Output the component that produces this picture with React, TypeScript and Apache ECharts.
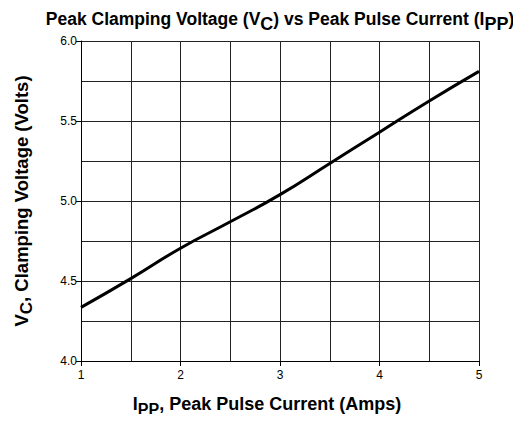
import React, { useEffect, useRef } from "react";
import * as echarts from "echarts";

const currentAmps = [1, 1.5, 2, 2.5, 3, 3.5, 4, 4.5, 5];
const clampVolts = [4.335, 4.515, 4.705, 4.87, 5.04, 5.235, 5.43, 5.625, 5.81];
const xMin = 1, xMax = 5, xStep = 1;
const yMin = 4, yMax = 6, yStep = 0.5;

const FONT = "Liberation Sans, Arial, sans-serif";

export default function App() {
  const ref = useRef<HTMLDivElement>(null);
  useEffect(() => {
    if (!ref.current) return;
    const chart = echarts.init(ref.current, undefined, { renderer: "svg" });
    const data = currentAmps.map((x, i) => [x, clampVolts[i]]);
    chart.setOption({
      animation: false,
      backgroundColor: "#fff",
      title: {
        text: "{n|Peak Clamping Voltage (V}{s|C}{n|) vs Peak Pulse Current (I}{s|PP}{n|)}",
        left: 275,
        textAlign: "center",
        top: 0,
        textStyle: {
          fontFamily: FONT,
          rich: {
            n: { fontFamily: FONT, fontSize: 17.5, fontWeight: "bold", color: "#000" },
            s: { fontFamily: FONT, fontSize: 18, fontWeight: "bold", color: "#000", padding: [10, 0, 0, 0] },
          },
        },
      },
      grid: { left: 81, right: 42, top: 41, bottom: 60, containLabel: false },
      xAxis: {
        type: "value",
        min: xMin,
        max: xMax,
        interval: xStep,
        name: "{n|I}{s|PP}{n|, Peak Pulse Current (Amps)}",
        nameLocation: "middle",
        nameGap: 30,
        nameTextStyle: {
          fontFamily: FONT,
          padding: [0, 26, 0, 0],
          rich: {
            n: { fontFamily: FONT, fontSize: 18, fontWeight: "bold", color: "#000" },
            s: { fontFamily: FONT, fontSize: 16, fontWeight: "bold", color: "#000", padding: [10, 0, 0, 0] },
          },
        },
        axisLine: { show: true, lineStyle: { color: "#000", width: 1 } },
        axisTick: { show: true, length: 5, inside: false, lineStyle: { color: "#000" } },
        axisLabel: { fontFamily: FONT, fontSize: 12, color: "#000", margin: 8 },
        splitLine: { show: true, lineStyle: { color: "#222", width: 1 } },
        minorTick: { show: false, splitNumber: 2 },
        minorSplitLine: { show: true, lineStyle: { color: "#222", width: 1 } },
      },
      yAxis: {
        type: "value",
        min: yMin,
        max: yMax,
        interval: yStep,
        name: "{n|V}{s|C}{n|, Clamping Voltage (Volts)}",
        nameLocation: "middle",
        nameGap: 46,
        nameRotate: 90,
        nameTextStyle: {
          fontFamily: FONT,
          rich: {
            n: { fontFamily: FONT, fontSize: 18.5, fontWeight: "bold", color: "#000" },
            s: { fontFamily: FONT, fontSize: 17, fontWeight: "bold", color: "#000", padding: [10, 0, 0, 0] },
          },
        },
        axisLine: { show: true, lineStyle: { color: "#000", width: 1 } },
        axisTick: { show: true, length: 5, inside: false, lineStyle: { color: "#000" } },
        axisLabel: {
          fontFamily: FONT,
          fontSize: 12,
          color: "#000",
          margin: 4,
          formatter: (v: number) => v.toFixed(1),
        },
        splitLine: { show: true, lineStyle: { color: "#222", width: 1 } },
        minorTick: { show: false, splitNumber: 2 },
        minorSplitLine: { show: true, lineStyle: { color: "#222", width: 1 } },
      },
      series: [
        {
          type: "line",
          data,
          smooth: true,
          showSymbol: false,
          lineStyle: { color: "#000", width: 3 },
        },
      ],
    });
    return () => chart.dispose();
  }, []);
  return <div ref={ref} style={{ width: 521, height: 422, margin: -8 }} />;
}
